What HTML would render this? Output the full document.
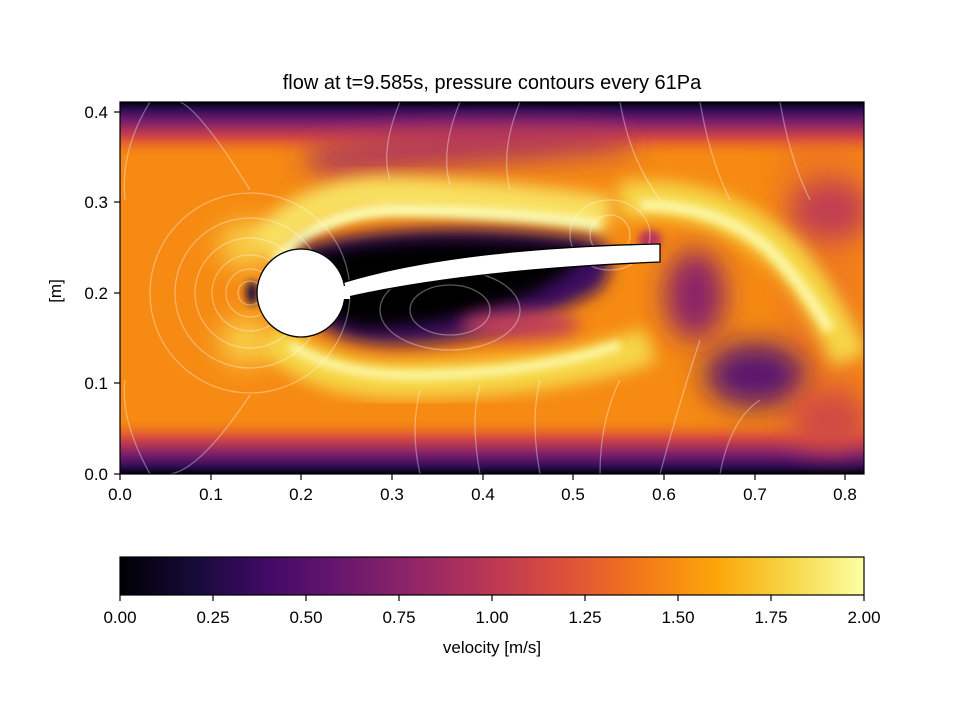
<!DOCTYPE html>
<html><head><meta charset="utf-8"><style>
html,body{margin:0;padding:0;background:#fff;}
svg{display:block;font-family:"Liberation Sans","DejaVu Sans",sans-serif;}
</style></head><body>
<svg width="960" height="720" viewBox="0 0 960 720" xmlns="http://www.w3.org/2000/svg">
<defs>
<clipPath id="ax"><rect x="120" y="102" width="744" height="372"/></clipPath>
<filter id="b8" x="-50%" y="-50%" width="200%" height="200%"><feGaussianBlur stdDeviation="8"/></filter>
<filter id="b14" x="-50%" y="-50%" width="200%" height="200%"><feGaussianBlur stdDeviation="14"/></filter>
<filter id="b4" x="-50%" y="-50%" width="200%" height="200%"><feGaussianBlur stdDeviation="4"/></filter>
<linearGradient id="inf" x1="0" x2="1" y1="0" y2="0">
<stop offset="0" stop-color="#000004"/><stop offset="0.1" stop-color="#160b39"/>
<stop offset="0.2" stop-color="#420a68"/><stop offset="0.3" stop-color="#6a176e"/>
<stop offset="0.4" stop-color="#932667"/><stop offset="0.5" stop-color="#bc3754"/>
<stop offset="0.6" stop-color="#dd513a"/><stop offset="0.7" stop-color="#f37819"/>
<stop offset="0.8" stop-color="#fca50a"/><stop offset="0.9" stop-color="#f6d746"/>
<stop offset="1" stop-color="#fcffa4"/></linearGradient>
<linearGradient id="top" x1="0" x2="0" y1="0" y2="1">
<stop offset="0" stop-color="#000004"/><stop offset="0.12" stop-color="#2a0b50"/>
<stop offset="0.35" stop-color="#7a1d6d"/><stop offset="0.65" stop-color="#d44842"/>
<stop offset="1" stop-color="#f37819" stop-opacity="0"/></linearGradient>
<linearGradient id="bot" x1="0" x2="0" y1="1" y2="0">
<stop offset="0" stop-color="#000004"/><stop offset="0.12" stop-color="#2a0b50"/>
<stop offset="0.35" stop-color="#7a1d6d"/><stop offset="0.65" stop-color="#d44842"/>
<stop offset="1" stop-color="#f37819" stop-opacity="0"/></linearGradient>
</defs>
<text x="492" y="89" font-size="20" text-anchor="middle">flow at t=9.585s, pressure contours every 61Pa</text>
<g clip-path="url(#ax)">
<rect x="120" y="102" width="744" height="372" fill="#f68a12"/>
<rect x="780" y="102" width="84" height="372" fill="#f07a1c" filter="url(#b14)"/>
<rect x="100" y="102" width="800" height="55" fill="url(#top)"/>
<rect x="100" y="419" width="800" height="55" fill="url(#bot)"/>
<path d="M300,150 Q450,120 620,135 L640,150 Q460,165 320,175 Z" fill="#a83060" filter="url(#b14)"/>
<ellipse cx="755" cy="375" rx="50" ry="32" fill="#5a1470" filter="url(#b14)"/>
<ellipse cx="695" cy="295" rx="30" ry="45" fill="#8a2468" filter="url(#b14)"/>
<ellipse cx="830" cy="210" rx="40" ry="30" fill="#c03c52" filter="url(#b14)"/>
<ellipse cx="830" cy="420" rx="40" ry="30" fill="#d04a44" filter="url(#b14)"/>
<ellipse cx="245" cy="245" rx="25" ry="22" fill="#f8d850" filter="url(#b14)"/>
<ellipse cx="245" cy="342" rx="25" ry="22" fill="#f8d850" filter="url(#b14)"/>
<path d="M262,250 Q310,190 400,195 Q520,200 610,215" stroke="#f8e060" stroke-width="36" fill="none" filter="url(#b8)"/>
<path d="M275,262 Q320,210 400,210 Q520,212 600,225" stroke="#fcfbb0" stroke-width="12" fill="none" filter="url(#b4)"/>
<path d="M620,200 Q720,190 790,260 Q830,310 850,360" stroke="#f6d746" stroke-width="36" fill="none" filter="url(#b8)"/>
<path d="M640,205 Q720,205 770,250 Q800,280 830,330" stroke="#fcf5a0" stroke-width="12" fill="none" filter="url(#b4)"/>
<path d="M270,335 Q320,385 420,380 Q560,378 650,345" stroke="#f6d746" stroke-width="36" fill="none" filter="url(#b8)"/>
<path d="M290,345 Q340,378 430,375 Q540,372 620,345" stroke="#fcf5a0" stroke-width="10" fill="none" filter="url(#b4)"/>
<path d="M300,248 Q420,215 600,240 Q620,262 600,290 Q500,345 400,345 Q320,345 300,300 Z" fill="#3a0a5e" filter="url(#b8)"/>
<path d="M310,255 Q420,228 585,248 Q575,275 520,298 Q440,328 360,328 Q315,315 310,290 Z" fill="#000004" filter="url(#b8)"/>
<ellipse cx="520" cy="325" rx="60" ry="14" fill="#c0405a" filter="url(#b8)"/>
<ellipse cx="252" cy="293" rx="6" ry="12" fill="#1a0a40" filter="url(#b4)"/>
<ellipse cx="650" cy="240" rx="12" ry="10" fill="#b8345a" filter="url(#b4)"/>
<g stroke="#ffffff" stroke-opacity="0.35" stroke-width="1.3" fill="none">
<circle cx="250" cy="293" r="12"/><circle cx="250" cy="293" r="24"/><circle cx="250" cy="293" r="38"/>
<circle cx="250" cy="293" r="55"/><circle cx="250" cy="293" r="75"/><circle cx="250" cy="293" r="100"/>
<path d="M250,190 Q200,110 180,102"/><path d="M250,395 Q200,470 170,474"/>
<path d="M150,102 Q120,150 125,200"/><path d="M150,474 Q120,420 125,380"/>
<path d="M400,102 Q380,150 390,180"/><path d="M460,102 Q440,150 450,185"/><path d="M520,102 Q500,150 510,190"/>
<path d="M420,474 Q410,430 420,390"/><path d="M480,474 Q470,420 480,385"/><path d="M540,474 Q530,420 540,380"/>
<path d="M600,474 Q600,420 620,380"/><path d="M660,474 Q680,400 700,340"/><path d="M720,474 Q730,420 760,400"/>
<path d="M620,102 Q630,160 660,200"/><path d="M700,102 Q710,160 730,200"/><path d="M780,102 Q790,160 810,200"/>
<ellipse cx="450" cy="310" rx="40" ry="25"/><ellipse cx="450" cy="310" rx="70" ry="40"/>
<ellipse cx="610" cy="235" rx="20" ry="20"/><ellipse cx="610" cy="235" rx="40" ry="35"/>
</g>
</g>
<path d="M335,285 Q450,248 660,244 L660,262 Q460,270 335,300 Z" fill="#fff" stroke="#000" stroke-width="1.3"/>
<circle cx="301" cy="293" r="44" fill="#fff" stroke="#000" stroke-width="1.3"/>
<rect x="340" y="286" width="10" height="13" fill="#fff"/>
<rect x="120" y="102" width="744" height="372" fill="none" stroke="#000" stroke-width="1.2"/>
<g font-size="17" text-anchor="middle">
<g stroke="#000" stroke-width="1.2">
<line x1="120" y1="474" x2="120" y2="480"/><line x1="211" y1="474" x2="211" y2="480"/><line x1="301" y1="474" x2="301" y2="480"/>
<line x1="392" y1="474" x2="392" y2="480"/><line x1="483" y1="474" x2="483" y2="480"/><line x1="573" y1="474" x2="573" y2="480"/>
<line x1="664" y1="474" x2="664" y2="480"/><line x1="755" y1="474" x2="755" y2="480"/><line x1="845" y1="474" x2="845" y2="480"/>
<line x1="114" y1="474" x2="120" y2="474"/><line x1="114" y1="383" x2="120" y2="383"/><line x1="114" y1="293" x2="120" y2="293"/>
<line x1="114" y1="202" x2="120" y2="202"/><line x1="114" y1="112" x2="120" y2="112"/>
</g>
<text x="120" y="500">0.0</text><text x="211" y="500">0.1</text><text x="301" y="500">0.2</text><text x="392" y="500">0.3</text>
<text x="483" y="500">0.4</text><text x="573" y="500">0.5</text><text x="664" y="500">0.6</text><text x="755" y="500">0.7</text><text x="845" y="500">0.8</text>
<g text-anchor="end"><text x="108" y="480">0.0</text><text x="108" y="389">0.1</text><text x="108" y="299">0.2</text><text x="108" y="208">0.3</text><text x="108" y="118">0.4</text></g>
<text transform="translate(61,291) rotate(-90)">[m]</text>
</g>
<rect x="120" y="557" width="744" height="38" fill="url(#inf)" stroke="#000" stroke-width="1.2"/>
<g stroke="#000" stroke-width="1.2">
<line x1="120" y1="595" x2="120" y2="601"/><line x1="213" y1="595" x2="213" y2="601"/><line x1="306" y1="595" x2="306" y2="601"/>
<line x1="399" y1="595" x2="399" y2="601"/><line x1="492" y1="595" x2="492" y2="601"/><line x1="585" y1="595" x2="585" y2="601"/>
<line x1="678" y1="595" x2="678" y2="601"/><line x1="771" y1="595" x2="771" y2="601"/><line x1="864" y1="595" x2="864" y2="601"/>
</g>
<g font-size="17" text-anchor="middle">
<text x="120" y="623">0.00</text><text x="213" y="623">0.25</text><text x="306" y="623">0.50</text><text x="399" y="623">0.75</text>
<text x="492" y="623">1.00</text><text x="585" y="623">1.25</text><text x="678" y="623">1.50</text><text x="771" y="623">1.75</text><text x="864" y="623">2.00</text>
<text x="492" y="653">velocity [m/s]</text>
</g>
</svg>
</body></html>
